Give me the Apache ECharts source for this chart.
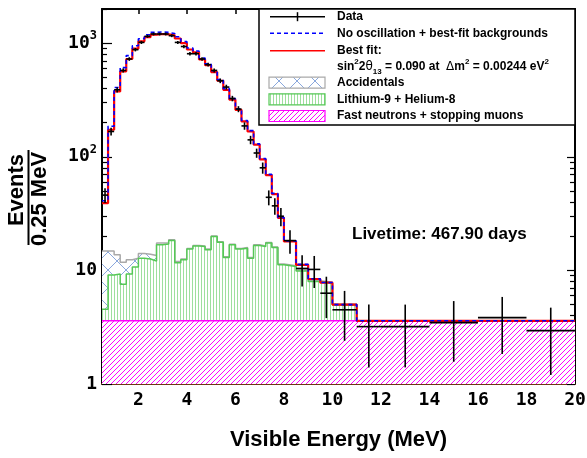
<!DOCTYPE html>
<html><head><meta charset="utf-8">
<script src="https://cdn.jsdelivr.net/npm/echarts@6/dist/echarts.min.js"></script>
<style>html,body{margin:0;padding:0;background:#fff}#c{width:587px;height:458px}</style>
</head><body><div id="c"></div>
<script>
// ---------- data ----------
const binEdges = [0.5,0.75,1.0,1.25,1.5,1.75,2.0,2.25,2.5,2.75,3.0,3.25,3.5,3.75,4.0,4.25,4.5,4.75,5.0,5.25,5.5,5.75,6.0,6.25,6.5,6.75,7.0,7.25,7.5,7.75,8.0,8.5,9.0,9.5,10,11,12,14,16,18,20];
const dataValues = [46,167,389,576,726,877,1016,1150,1205,1205,1205,1164,1016,935,808,808,726,647,576,467,411,326,263,187,141,108,80,44,37,30,18.3,10.4,10.2,6.3,4.5,3.2,3.2,3.47,3.84,2.95];
const dataErrors = [6.8,13,20,24,27,30,32,34,35,35,35,34,32,31,28,28,27,25,24,22,20,18,16,14,12,10,9,6.6,6.1,5.5,4.3,3.2,3.2,2.5,2.1,1.8,1.8,1.9,2.0,1.75];
const bestFit = [39,173,376,565,726,895,1038,1130,1190,1205,1195,1170,1100,1000,880,830,720,640,557,467,389,318,259,205,167,128,95,69,47,29,18,11.2,8.4,7.8,5.0,3.6,3.6,3.6,3.6,3.6];
const noOscillation = [41,186,408,610,778,950,1095,1185,1245,1258,1245,1215,1140,1035,908,855,740,658,572,478,398,325,264,209,170,130,96.5,70,47.6,29.3,18.2,11.3,8.45,7.82,5.0,3.6,3.6,3.6,3.6,3.6];
const bkgEdges = [0.5,0.75,1.0,1.25,1.5,1.75,2.0,2.25,2.5,2.75,3.0,3.25,3.5,3.75,4.0,4.25,4.5,4.75,5.0,5.25,5.5,5.75,6.0,6.25,6.5,6.75,7.0,7.25,7.5,7.75,8.0,8.5,9.0,9.5,10,11];
const accidentalsTop = [14.8,14.8,13.7,11.8,12.4,12.8,14.1,13.9,13.5,17.4,17.4,18.6,12.0,12.6,15.6,16.6,16.4,15.4,20.1,17.9,13.2,17.0,15.6,15.9,13.0,16.8,16.4,17.6,16.1,11.4,11.0,10.1,8.1,7.85,5.05];
const lithiumTop = [4.55,9.12,9.3,7.55,9.3,10.7,12.8,12.6,12.1,16.8,17.1,18.3,11.7,12.4,15.4,16.4,16.2,15.2,19.9,17.7,13.0,16.8,15.4,15.7,12.8,16.6,16.2,17.4,15.9,11.2,10.8,9.9,7.97,7.71,4.97];
const fastNeutronEdges = [0.5,20];
const fastNeutronTop = [3.6];
const xTicks = [2,4,6,8,10,12,14,16,18,20];
const yMajorTicks = [1,10,100,1000];
const yMinorTicks = [2,3,4,5,6,7,8,9,20,30,40,50,60,70,80,90,200,300,400,500,600,700,800,900,2000];
const X_MIN = 0.5, X_MAX = 20, Y_MIN = 1, Y_MAX = 2000;

// ---------- helpers ----------
function stepData(edges, vals, closeDown) {
  const d = vals.map((v, i) => [edges[i], v]);
  d.push([edges[vals.length], vals[vals.length - 1]]);
  if (closeDown) d.push([edges[vals.length], Y_MIN]);
  return d;
}
function makePattern(w, h, draw) {
  const c = document.createElement('canvas');
  c.width = w; c.height = h;
  const g = c.getContext('2d');
  g.fillStyle = '#fff'; g.fillRect(0, 0, w, h);
  draw(g, w, h);
  return { image: c, repeat: 'repeat' };
}
const magentaHatch = () => makePattern(5, 5, (g, w, h) => {
  g.strokeStyle = '#ff00ff'; g.lineWidth = 1; g.beginPath();
  g.moveTo(-1, h + 1); g.lineTo(w + 1, -1);
  g.moveTo(-1, 1); g.lineTo(1, -1);
  g.moveTo(w - 1, h + 1); g.lineTo(w + 1, h - 1);
  g.stroke();
});
const greenStripes = () => makePattern(3, 3, (g, w, h) => {
  g.fillStyle = '#9ddf9d'; g.fillRect(0, 0, 1, h);
});
const blueCross = () => makePattern(18, 18, (g, w, h) => {
  g.strokeStyle = '#8aa8dc'; g.lineWidth = 1; g.beginPath();
  g.moveTo(0, 0); g.lineTo(w, h); g.moveTo(0, h); g.lineTo(w, 0);
  g.stroke();
});

const MONO = '"DejaVu Sans Mono"';
const SANS = '"Liberation Sans", Arial, sans-serif';

function xAxisCfg(pos, showLabel, lineColor) {
  return {
    type: 'value', min: X_MIN, max: X_MAX, position: pos,
    axisLine: { show: true, onZero: false, lineStyle: { color: lineColor, width: 2 } },
    axisTick: { show: true, inside: true, length: 5, customValues: xTicks, lineStyle: { color: '#000', width: 1.5 } },
    axisLabel: { show: showLabel, customValues: xTicks, margin: 7, color: '#000',
      fontFamily: MONO, fontWeight: 'bold', fontSize: 18 },
    splitLine: { show: false }
  };
}
function yAxisCfg(pos, ticks, len, showLabel, showLine) {
  return {
    type: 'log', logBase: 10, min: Y_MIN, max: Y_MAX, position: pos,
    axisLine: { show: showLine, onZero: false, lineStyle: { color: '#000', width: 2 } },
    axisTick: { show: true, inside: true, length: len, customValues: ticks, lineStyle: { color: '#000', width: 1.2 } },
    axisLabel: { show: showLabel, customValues: ticks, margin: 5, color: '#000',
      fontFamily: MONO, fontWeight: 'bold', fontSize: 18, lineHeight: 26,
      formatter: v => (v >= 1000 ? '10{sup|3}' : v >= 100 ? '10{sup|2}' : String(Math.round(v))),
      rich: { sup: { fontFamily: MONO, fontWeight: 'bold', fontSize: 12, verticalAlign: 'top', color: '#000' } } },
    splitLine: { show: false }, minorTick: { show: false }
  };
}

const chart = echarts.init(document.getElementById('c'), null, { renderer: 'canvas' });
const legendRowsY = [16.7, 33.3, 50.7, 66.7, 82.7, 99.3, 116];
const legendText = (y, text, extra) => Object.assign({
  type: 'text', x: 337, y: y, z: 101,
  style: { text: text, fill: '#000', font: 'bold 12px ' + SANS, verticalAlign: 'middle', align: 'left' }
}, extra || {});

chart.setOption({
  animation: false,
  backgroundColor: '#fff',
  grid: { left: 102, right: 12, top: 9, bottom: 74, containLabel: false, outerBoundsMode: 'none' },
  xAxis: [xAxisCfg('bottom', true, '#6e3514'), xAxisCfg('top', false, '#000')],
  yAxis: [
    yAxisCfg('left', yMajorTicks, 10, true, true),
    yAxisCfg('left', yMinorTicks, 5, false, false),
    yAxisCfg('right', yMajorTicks, 8, false, true),
    yAxisCfg('right', yMinorTicks, 5, false, false)
  ],
  series: [
    { name: 'Accidentals', type: 'line', step: 'end', z: 1, symbol: 'none', clip: true,
      data: stepData(bkgEdges, accidentalsTop, true),
      lineStyle: { color: '#a9a9a9', width: 1.5 },
      areaStyle: { color: blueCross(), opacity: 1, origin: 'start' } },
    { name: 'Lithium-9 + Helium-8', type: 'line', step: 'end', z: 2, symbol: 'none', clip: true,
      data: stepData(bkgEdges, lithiumTop, true),
      lineStyle: { color: '#55c855', width: 1.5 },
      areaStyle: { color: greenStripes(), opacity: 1, origin: 'start' } },
    { name: 'Fast neutrons + stopping muons', type: 'line', step: 'end', z: 3, symbol: 'none', clip: true,
      data: stepData(fastNeutronEdges, fastNeutronTop, false),
      lineStyle: { color: '#ff00ff', width: 1.5 },
      areaStyle: { color: magentaHatch(), opacity: 1, origin: 'start' } },
    { name: 'Best fit', type: 'line', step: 'end', z: 4, symbol: 'none', clip: true,
      data: stepData(binEdges, bestFit, false),
      lineStyle: { color: '#ff0000', width: 2.2 } },
    { name: 'No oscillation', type: 'line', step: 'end', z: 5, symbol: 'none', clip: true,
      data: stepData(binEdges, noOscillation, false),
      lineStyle: { color: '#0000ff', width: 1.6, type: [4, 3] } },
    { name: 'Data', type: 'custom', z: 6, clip: true,
      data: dataValues.map((v, i) => [binEdges[i], binEdges[i + 1], v, dataErrors[i]]),
      encode: { x: [0, 1], y: 2 },
      renderItem: (params, api) => {
        const x0 = api.value(0), x1 = api.value(1), v = api.value(2), e = api.value(3);
        const pL = api.coord([x0, v]), pR = api.coord([x1, v]);
        const xc = (x0 + x1) / 2;
        const pT = api.coord([xc, v + e]), pB = api.coord([xc, Math.max(v - e, Y_MIN)]);
        return { type: 'group', children: [
          { type: 'line', shape: { x1: pL[0], y1: pL[1], x2: pR[0], y2: pR[1] }, style: { stroke: '#000', lineWidth: 1.6 } },
          { type: 'line', shape: { x1: pT[0], y1: pT[1], x2: pB[0], y2: pB[1] }, style: { stroke: '#000', lineWidth: 1.6 } }
        ] };
      } }
  ],
  graphic: [
    // y axis title (fraction)
    { type: 'text', x: 17, y: 190, rotation: Math.PI / 2,
      style: { text: 'Events', font: 'bold 22px ' + SANS, fill: '#000', align: 'center', verticalAlign: 'middle' } },
    { type: 'line', shape: { x1: 28.5, y1: 150, x2: 28.5, y2: 245 }, style: { stroke: '#000', lineWidth: 2 } },
    { type: 'text', x: 40, y: 199, rotation: Math.PI / 2,
      style: { text: '0.25 MeV', font: 'bold 22px ' + SANS, fill: '#000', align: 'center', verticalAlign: 'middle' } },
    // x axis title
    { type: 'text', x: 338.5, y: 440,
      style: { text: 'Visible Energy (MeV)', font: 'bold 22px ' + SANS, fill: '#000', align: 'center', verticalAlign: 'middle' } },
    // livetime
    { type: 'text', x: 352, y: 234,
      style: { text: 'Livetime: 467.90 days', font: 'bold 17px ' + SANS, fill: '#000', align: 'left', verticalAlign: 'middle' } },
    // legend box
    { type: 'rect', z: 100, shape: { x: 259, y: 9, width: 316, height: 116 },
      style: { fill: '#fff', stroke: '#000', lineWidth: 1.5 } },
    { type: 'line', z: 101, shape: { x1: 270, y1: legendRowsY[0], x2: 325, y2: legendRowsY[0] }, style: { stroke: '#000', lineWidth: 1.5 } },
    { type: 'line', z: 101, shape: { x1: 297.5, y1: legendRowsY[0] - 4.5, x2: 297.5, y2: legendRowsY[0] + 4.5 }, style: { stroke: '#000', lineWidth: 1.5 } },
    { type: 'line', z: 101, shape: { x1: 270, y1: legendRowsY[1], x2: 325, y2: legendRowsY[1] }, style: { stroke: '#0000ff', lineWidth: 1.6, lineDash: [4, 3] } },
    { type: 'line', z: 101, shape: { x1: 270, y1: legendRowsY[2], x2: 325, y2: legendRowsY[2] }, style: { stroke: '#ff0000', lineWidth: 1.6 } },
    { type: 'rect', z: 101, shape: { x: 269, y: legendRowsY[4] - 5.5, width: 56, height: 11 }, style: { fill: blueCross(), stroke: '#a9a9a9', lineWidth: 1.2 } },
    { type: 'rect', z: 101, shape: { x: 269, y: legendRowsY[5] - 5.5, width: 56, height: 11 }, style: { fill: greenStripes(), stroke: '#55c855', lineWidth: 1.2 } },
    { type: 'rect', z: 101, shape: { x: 269, y: legendRowsY[6] - 5.5, width: 56, height: 11 }, style: { fill: magentaHatch(), stroke: '#ff00ff', lineWidth: 1.2 } },
    legendText(legendRowsY[0], 'Data'),
    legendText(legendRowsY[1], 'No oscillation + best-fit backgrounds'),
    legendText(legendRowsY[2], 'Best fit:'),
    { type: 'text', x: 337, y: legendRowsY[3], z: 101,
      style: { text: 'sin{sup|2}2{sym|θ}{sub|13} = 0.090 at  {sym|Δ}m{sup|2} = 0.00244 eV{sup|2}',
        fill: '#000', font: 'bold 12px ' + SANS, lineHeight: 18, verticalAlign: 'middle', align: 'left',
        rich: {
          sup: { fontFamily: SANS, fontWeight: 'bold', fontSize: 8, verticalAlign: 'top', fill: '#000' },
          sub: { fontFamily: SANS, fontWeight: 'bold', fontSize: 8, verticalAlign: 'bottom', fill: '#000' },
          sym: { fontFamily: '"DejaVu Sans"', fontWeight: 'normal', fontSize: 12, fill: '#000' }
        } } },
    legendText(legendRowsY[4], 'Accidentals'),
    legendText(legendRowsY[5], 'Lithium-9 + Helium-8'),
    legendText(legendRowsY[6], 'Fast neutrons + stopping muons')
  ]
});
</script>
</body></html>
